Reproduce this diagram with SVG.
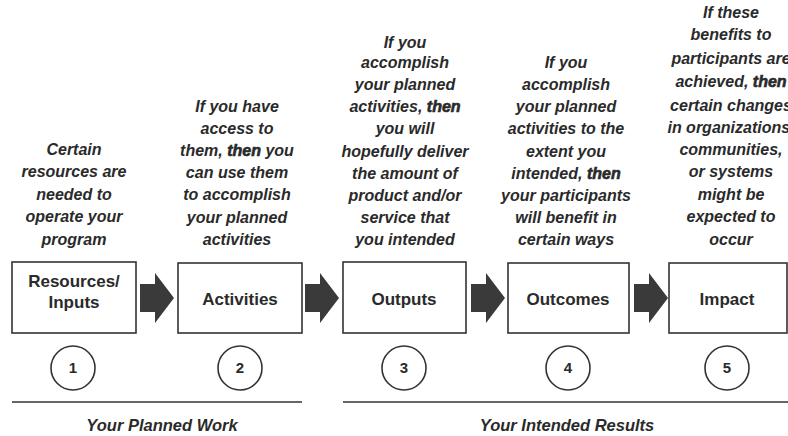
<svg xmlns="http://www.w3.org/2000/svg" width="788" height="436" viewBox="0 0 788 436">
<defs>
<style>
.desc{font-family:"Liberation Sans",Arial,sans-serif;font-weight:bold;font-style:italic;font-size:16px;fill:#2a2a2a;text-anchor:middle}
.th{stroke:#2a2a2a;stroke-width:0.6}
.box{fill:#fff;stroke:#333;stroke-width:1.6}
.lbl{font-family:"Liberation Sans",Arial,sans-serif;font-weight:bold;font-size:17px;fill:#2a2a2a;text-anchor:middle}
.num{font-family:"Liberation Sans",Arial,sans-serif;font-weight:bold;font-size:15px;fill:#2a2a2a;text-anchor:middle}
.circ{fill:#fff;stroke:#333;stroke-width:1.6}
.rule{stroke:#333;stroke-width:1.6}
.arrow{fill:#3a3a3a}
.grp{font-family:"Liberation Sans",Arial,sans-serif;font-weight:bold;font-style:italic;font-size:16.5px;fill:#2a2a2a;text-anchor:middle}
</style>
<path id="arr" d="M0,-14 H15 V-25 L34,0 L15,25 V14 H0 Z"/>
</defs>
<rect width="788" height="436" fill="#fff"/>

<g id="node1">
<text class="desc"><tspan x="74" y="155">Certain</tspan><tspan x="74" y="177">resources are</tspan><tspan x="74" y="200">needed to</tspan><tspan x="74" y="222">operate your</tspan><tspan x="74" y="245">program</tspan></text>
<rect class="box" x="12" y="262" width="124" height="71"/>
<text class="lbl"><tspan x="74" y="287">Resources/</tspan><tspan x="74" y="308">Inputs</tspan></text>
<circle class="circ" cx="73" cy="368" r="22"/>
<text class="num" x="73" y="373">1</text>
</g>

<g id="node2">
<text class="desc"><tspan x="237" y="112">If you have</tspan><tspan x="237" y="134">access to</tspan><tspan x="237" y="156">them, <tspan class="th">then</tspan> you</tspan><tspan x="237" y="178">can use them</tspan><tspan x="237" y="200">to accomplish</tspan><tspan x="237" y="223">your planned</tspan><tspan x="237" y="245">activities</tspan></text>
<rect class="box" x="178" y="263" width="124" height="70"/>
<text class="lbl" x="240" y="305">Activities</text>
<circle class="circ" cx="240" cy="368" r="22"/>
<text class="num" x="240" y="373">2</text>
</g>

<g id="node3">
<text class="desc"><tspan x="405" y="48">If you</tspan><tspan x="405" y="68">accomplish</tspan><tspan x="405" y="90">your planned</tspan><tspan x="405" y="112">activities, <tspan class="th">then</tspan></tspan><tspan x="405" y="134">you will</tspan><tspan x="405" y="157">hopefully deliver</tspan><tspan x="405" y="179">the amount of</tspan><tspan x="405" y="201">product and/or</tspan><tspan x="405" y="223">service that</tspan><tspan x="405" y="245">you intended</tspan></text>
<rect class="box" x="343" y="262" width="123" height="71"/>
<text class="lbl" x="404" y="305">Outputs</text>
<circle class="circ" cx="404" cy="368" r="22"/>
<text class="num" x="404" y="373">3</text>
</g>

<g id="node4">
<text class="desc"><tspan x="566" y="68">If you</tspan><tspan x="566" y="90">accomplish</tspan><tspan x="566" y="112">your planned</tspan><tspan x="566" y="134">activities to the</tspan><tspan x="566" y="157">extent you</tspan><tspan x="566" y="179">intended, <tspan class="th">then</tspan></tspan><tspan x="566" y="201">your participants</tspan><tspan x="566" y="223">will benefit in</tspan><tspan x="566" y="245">certain ways</tspan></text>
<rect class="box" x="508" y="263" width="121" height="70"/>
<text class="lbl" x="568" y="305">Outcomes</text>
<circle class="circ" cx="568" cy="368" r="22"/>
<text class="num" x="568" y="373">4</text>
</g>

<g id="node5">
<text class="desc"><tspan x="731" y="18">If these</tspan><tspan x="731" y="40">benefits to</tspan><tspan x="731" y="64">participants are</tspan><tspan x="731" y="87">achieved, <tspan class="th">then</tspan></tspan><tspan x="731" y="111">certain changes</tspan><tspan x="731" y="133">in organizations,</tspan><tspan x="731" y="155">communities,</tspan><tspan x="731" y="177">or systems</tspan><tspan x="731" y="200">might be</tspan><tspan x="731" y="222">expected to</tspan><tspan x="731" y="245">occur</tspan></text>
<rect class="box" x="669" y="263" width="118" height="70"/>
<text class="lbl" x="727" y="305">Impact</text>
<circle class="circ" cx="727" cy="368" r="22"/>
<text class="num" x="727" y="373">5</text>
</g>

<g id="connectors">
<use href="#arr" class="arrow" x="140" y="298"/>
<use href="#arr" class="arrow" x="305" y="298"/>
<use href="#arr" class="arrow" x="471" y="298"/>
<use href="#arr" class="arrow" x="634" y="298"/>
</g>

<g id="groups">
<line class="rule" x1="12" y1="402" x2="302" y2="402"/>
<line class="rule" x1="343" y1="402" x2="788" y2="402"/>
<text class="grp" x="162" y="431">Your Planned Work</text>
<text class="grp" x="567" y="431">Your Intended Results</text>
</g>
</svg>
